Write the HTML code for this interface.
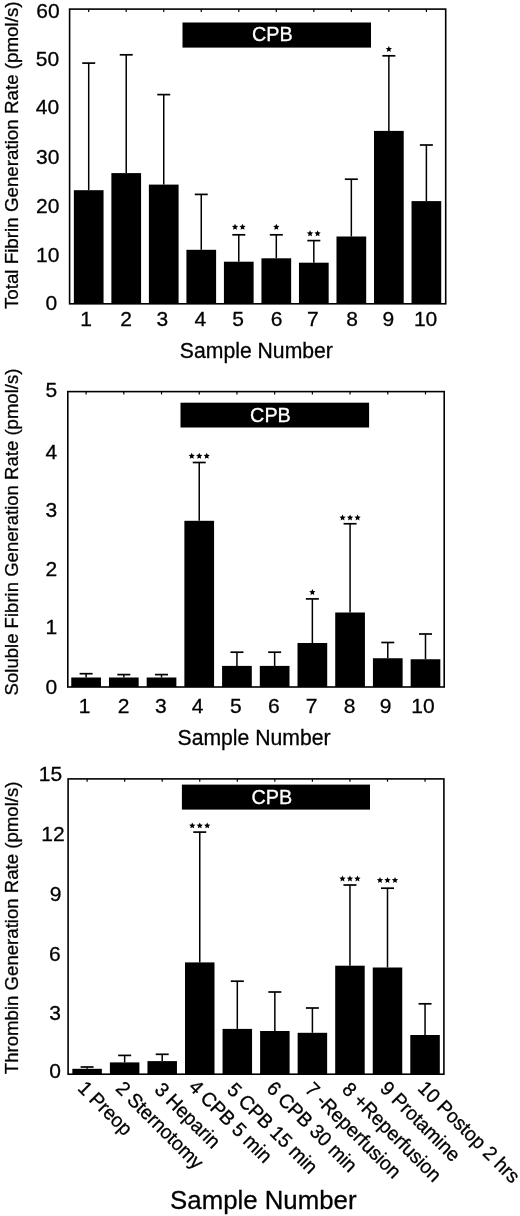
<!DOCTYPE html>
<html><head><meta charset="utf-8"><style>
html,body{margin:0;padding:0;background:#fff;}
svg{display:block;will-change:transform;}
text{font-family:"Liberation Sans", sans-serif;fill:#000;stroke:#000;stroke-width:0.3px;}
</style></head><body>
<svg width="520" height="1216" viewBox="0 0 520 1216">
<rect x="73.85" y="190.20" width="29.70" height="113.60"/>
<line x1="88.70" y1="190.20" x2="88.70" y2="63.10" stroke="#000" stroke-width="1.5"/>
<line x1="82.20" y1="63.10" x2="95.20" y2="63.10" stroke="#000" stroke-width="1.7"/>
<line x1="88.70" y1="9.10" x2="88.70" y2="11.90" stroke="#000" stroke-width="1.2"/>
<rect x="111.37" y="173.10" width="29.70" height="130.70"/>
<line x1="126.22" y1="173.10" x2="126.22" y2="54.80" stroke="#000" stroke-width="1.5"/>
<line x1="119.72" y1="54.80" x2="132.72" y2="54.80" stroke="#000" stroke-width="1.7"/>
<line x1="126.22" y1="9.10" x2="126.22" y2="11.90" stroke="#000" stroke-width="1.2"/>
<rect x="148.89" y="184.60" width="29.70" height="119.20"/>
<line x1="163.74" y1="184.60" x2="163.74" y2="94.60" stroke="#000" stroke-width="1.5"/>
<line x1="157.24" y1="94.60" x2="170.24" y2="94.60" stroke="#000" stroke-width="1.7"/>
<line x1="163.74" y1="9.10" x2="163.74" y2="11.90" stroke="#000" stroke-width="1.2"/>
<rect x="186.41" y="249.80" width="29.70" height="54.00"/>
<line x1="201.26" y1="249.80" x2="201.26" y2="194.40" stroke="#000" stroke-width="1.5"/>
<line x1="194.76" y1="194.40" x2="207.76" y2="194.40" stroke="#000" stroke-width="1.7"/>
<line x1="201.26" y1="9.10" x2="201.26" y2="11.90" stroke="#000" stroke-width="1.2"/>
<rect x="223.93" y="261.70" width="29.70" height="42.10"/>
<line x1="238.78" y1="261.70" x2="238.78" y2="234.80" stroke="#000" stroke-width="1.5"/>
<line x1="232.28" y1="234.80" x2="245.28" y2="234.80" stroke="#000" stroke-width="1.7"/>
<line x1="238.78" y1="9.10" x2="238.78" y2="11.90" stroke="#000" stroke-width="1.2"/>
<polygon points="235.03,223.80 235.94,225.85 238.17,226.08 236.50,227.58 236.97,229.77 235.03,228.65 233.09,229.77 233.56,227.58 231.89,226.08 234.12,225.85"/>
<polygon points="242.53,223.80 243.44,225.85 245.67,226.08 244.00,227.58 244.47,229.77 242.53,228.65 240.59,229.77 241.06,227.58 239.39,226.08 241.62,225.85"/>
<rect x="261.45" y="258.30" width="29.70" height="45.50"/>
<line x1="276.30" y1="258.30" x2="276.30" y2="234.80" stroke="#000" stroke-width="1.5"/>
<line x1="269.80" y1="234.80" x2="282.80" y2="234.80" stroke="#000" stroke-width="1.7"/>
<line x1="276.30" y1="9.10" x2="276.30" y2="11.90" stroke="#000" stroke-width="1.2"/>
<polygon points="276.30,223.80 277.21,225.85 279.44,226.08 277.77,227.58 278.24,229.77 276.30,228.65 274.36,229.77 274.83,227.58 273.16,226.08 275.39,225.85"/>
<rect x="298.97" y="262.70" width="29.70" height="41.10"/>
<line x1="313.82" y1="262.70" x2="313.82" y2="240.60" stroke="#000" stroke-width="1.5"/>
<line x1="307.32" y1="240.60" x2="320.32" y2="240.60" stroke="#000" stroke-width="1.7"/>
<line x1="313.82" y1="9.10" x2="313.82" y2="11.90" stroke="#000" stroke-width="1.2"/>
<polygon points="310.07,230.30 310.98,232.35 313.21,232.58 311.54,234.08 312.01,236.27 310.07,235.15 308.13,236.27 308.60,234.08 306.93,232.58 309.16,232.35"/>
<polygon points="317.57,230.30 318.48,232.35 320.71,232.58 319.04,234.08 319.51,236.27 317.57,235.15 315.63,236.27 316.10,234.08 314.43,232.58 316.66,232.35"/>
<rect x="336.49" y="236.50" width="29.70" height="67.30"/>
<line x1="351.34" y1="236.50" x2="351.34" y2="179.20" stroke="#000" stroke-width="1.5"/>
<line x1="344.84" y1="179.20" x2="357.84" y2="179.20" stroke="#000" stroke-width="1.7"/>
<line x1="351.34" y1="9.10" x2="351.34" y2="11.90" stroke="#000" stroke-width="1.2"/>
<rect x="374.01" y="130.90" width="29.70" height="172.90"/>
<line x1="388.86" y1="130.90" x2="388.86" y2="55.80" stroke="#000" stroke-width="1.5"/>
<line x1="382.36" y1="55.80" x2="395.36" y2="55.80" stroke="#000" stroke-width="1.7"/>
<line x1="388.86" y1="9.10" x2="388.86" y2="11.90" stroke="#000" stroke-width="1.2"/>
<polygon points="388.86,45.95 389.77,48.00 392.00,48.23 390.33,49.73 390.80,51.92 388.86,50.80 386.92,51.92 387.39,49.73 385.72,48.23 387.95,48.00"/>
<rect x="411.53" y="201.10" width="29.70" height="102.70"/>
<line x1="426.38" y1="201.10" x2="426.38" y2="145.00" stroke="#000" stroke-width="1.5"/>
<line x1="419.88" y1="145.00" x2="432.88" y2="145.00" stroke="#000" stroke-width="1.7"/>
<line x1="426.38" y1="9.10" x2="426.38" y2="11.90" stroke="#000" stroke-width="1.2"/>
<rect x="69.60" y="9.10" width="376.10" height="294.70" fill="none" stroke="#000" stroke-width="1.60"/>
<rect x="182.50" y="22.50" width="188.50" height="25.10"/>
<text transform="translate(272.25,41.30) scale(1,1.035)" font-size="19.80" text-anchor="middle" style="fill:#fff;stroke:#fff">CPB</text>
<text transform="translate(59.65,17.60)" font-size="21.00" text-anchor="end">60</text>
<text transform="translate(59.15,65.90)" font-size="21.00" text-anchor="end">50</text>
<text transform="translate(59.15,114.40)" font-size="21.00" text-anchor="end">40</text>
<text transform="translate(59.45,164.00)" font-size="21.00" text-anchor="end">30</text>
<text transform="translate(59.45,213.00)" font-size="21.00" text-anchor="end">20</text>
<text transform="translate(59.45,262.00)" font-size="21.00" text-anchor="end">10</text>
<text transform="translate(57.10,310.20)" font-size="21.00" text-anchor="end">0</text>
<text transform="translate(86.10,326.20)" font-size="21.00" text-anchor="middle">1</text>
<text transform="translate(126.02,326.20)" font-size="21.00" text-anchor="middle">2</text>
<text transform="translate(162.34,326.20)" font-size="21.00" text-anchor="middle">3</text>
<text transform="translate(200.26,326.20)" font-size="21.00" text-anchor="middle">4</text>
<text transform="translate(238.18,326.20)" font-size="21.00" text-anchor="middle">5</text>
<text transform="translate(276.70,326.20)" font-size="21.00" text-anchor="middle">6</text>
<text transform="translate(312.82,326.20)" font-size="21.00" text-anchor="middle">7</text>
<text transform="translate(352.04,326.20)" font-size="21.00" text-anchor="middle">8</text>
<text transform="translate(388.36,326.20)" font-size="21.00" text-anchor="middle">9</text>
<text transform="translate(425.58,326.20)" font-size="21.00" text-anchor="middle">10</text>
<text transform="translate(179.82,357.80) scale(1,1.035)" font-size="21.20">Sample Number</text>
<text transform="translate(18.00,309.11) rotate(-90)" font-size="18.77">Total Fibrin Generation Rate (pmol/s)</text>
<rect x="71.25" y="677.50" width="29.70" height="9.50"/>
<line x1="86.10" y1="677.50" x2="86.10" y2="673.70" stroke="#000" stroke-width="1.5"/>
<line x1="79.60" y1="673.70" x2="92.60" y2="673.70" stroke="#000" stroke-width="1.7"/>
<line x1="86.10" y1="391.60" x2="86.10" y2="394.40" stroke="#000" stroke-width="1.2"/>
<rect x="108.96" y="677.50" width="29.70" height="9.50"/>
<line x1="123.81" y1="677.50" x2="123.81" y2="674.60" stroke="#000" stroke-width="1.5"/>
<line x1="117.31" y1="674.60" x2="130.31" y2="674.60" stroke="#000" stroke-width="1.7"/>
<line x1="123.81" y1="391.60" x2="123.81" y2="394.40" stroke="#000" stroke-width="1.2"/>
<rect x="146.67" y="677.50" width="29.70" height="9.50"/>
<line x1="161.52" y1="677.50" x2="161.52" y2="674.60" stroke="#000" stroke-width="1.5"/>
<line x1="155.02" y1="674.60" x2="168.02" y2="674.60" stroke="#000" stroke-width="1.7"/>
<line x1="161.52" y1="391.60" x2="161.52" y2="394.40" stroke="#000" stroke-width="1.2"/>
<rect x="184.38" y="520.80" width="29.70" height="166.20"/>
<line x1="199.23" y1="520.80" x2="199.23" y2="462.50" stroke="#000" stroke-width="1.5"/>
<line x1="192.73" y1="462.50" x2="205.73" y2="462.50" stroke="#000" stroke-width="1.7"/>
<line x1="199.23" y1="391.60" x2="199.23" y2="394.40" stroke="#000" stroke-width="1.2"/>
<polygon points="191.73,452.80 192.64,454.85 194.87,455.08 193.20,456.58 193.67,458.77 191.73,457.65 189.79,458.77 190.26,456.58 188.59,455.08 190.82,454.85"/>
<polygon points="199.23,452.80 200.14,454.85 202.37,455.08 200.70,456.58 201.17,458.77 199.23,457.65 197.29,458.77 197.76,456.58 196.09,455.08 198.32,454.85"/>
<polygon points="206.73,452.80 207.64,454.85 209.87,455.08 208.20,456.58 208.67,458.77 206.73,457.65 204.79,458.77 205.26,456.58 203.59,455.08 205.82,454.85"/>
<rect x="222.09" y="665.90" width="29.70" height="21.10"/>
<line x1="236.94" y1="665.90" x2="236.94" y2="652.20" stroke="#000" stroke-width="1.5"/>
<line x1="230.44" y1="652.20" x2="243.44" y2="652.20" stroke="#000" stroke-width="1.7"/>
<line x1="236.94" y1="391.60" x2="236.94" y2="394.40" stroke="#000" stroke-width="1.2"/>
<rect x="259.80" y="665.90" width="29.70" height="21.10"/>
<line x1="274.65" y1="665.90" x2="274.65" y2="652.20" stroke="#000" stroke-width="1.5"/>
<line x1="268.15" y1="652.20" x2="281.15" y2="652.20" stroke="#000" stroke-width="1.7"/>
<line x1="274.65" y1="391.60" x2="274.65" y2="394.40" stroke="#000" stroke-width="1.2"/>
<rect x="297.51" y="643.00" width="29.70" height="44.00"/>
<line x1="312.36" y1="643.00" x2="312.36" y2="598.90" stroke="#000" stroke-width="1.5"/>
<line x1="305.86" y1="598.90" x2="318.86" y2="598.90" stroke="#000" stroke-width="1.7"/>
<line x1="312.36" y1="391.60" x2="312.36" y2="394.40" stroke="#000" stroke-width="1.2"/>
<polygon points="312.36,589.05 313.27,591.10 315.50,591.33 313.83,592.83 314.30,595.02 312.36,593.90 310.42,595.02 310.89,592.83 309.22,591.33 311.45,591.10"/>
<rect x="335.22" y="612.50" width="29.70" height="74.50"/>
<line x1="350.07" y1="612.50" x2="350.07" y2="523.75" stroke="#000" stroke-width="1.5"/>
<line x1="343.57" y1="523.75" x2="356.57" y2="523.75" stroke="#000" stroke-width="1.7"/>
<line x1="350.07" y1="391.60" x2="350.07" y2="394.40" stroke="#000" stroke-width="1.2"/>
<polygon points="342.57,514.45 343.48,516.50 345.71,516.73 344.04,518.23 344.51,520.42 342.57,519.30 340.63,520.42 341.10,518.23 339.43,516.73 341.66,516.50"/>
<polygon points="350.07,514.45 350.98,516.50 353.21,516.73 351.54,518.23 352.01,520.42 350.07,519.30 348.13,520.42 348.60,518.23 346.93,516.73 349.16,516.50"/>
<polygon points="357.57,514.45 358.48,516.50 360.71,516.73 359.04,518.23 359.51,520.42 357.57,519.30 355.63,520.42 356.10,518.23 354.43,516.73 356.66,516.50"/>
<rect x="372.93" y="658.25" width="29.70" height="28.75"/>
<line x1="387.78" y1="658.25" x2="387.78" y2="642.50" stroke="#000" stroke-width="1.5"/>
<line x1="381.28" y1="642.50" x2="394.28" y2="642.50" stroke="#000" stroke-width="1.7"/>
<line x1="387.78" y1="391.60" x2="387.78" y2="394.40" stroke="#000" stroke-width="1.2"/>
<rect x="410.64" y="659.25" width="29.70" height="27.75"/>
<line x1="425.49" y1="659.25" x2="425.49" y2="634.00" stroke="#000" stroke-width="1.5"/>
<line x1="418.99" y1="634.00" x2="431.99" y2="634.00" stroke="#000" stroke-width="1.7"/>
<line x1="425.49" y1="391.60" x2="425.49" y2="394.40" stroke="#000" stroke-width="1.2"/>
<rect x="67.80" y="391.60" width="376.40" height="295.40" fill="none" stroke="#000" stroke-width="1.60"/>
<rect x="180.50" y="402.70" width="188.60" height="24.80"/>
<text transform="translate(270.45,421.60) scale(1,1.035)" font-size="19.80" text-anchor="middle" style="fill:#fff;stroke:#fff">CPB</text>
<text transform="translate(57.15,396.70)" font-size="21.00" text-anchor="end">5</text>
<text transform="translate(57.15,458.50)" font-size="21.00" text-anchor="end">4</text>
<text transform="translate(57.15,516.50)" font-size="21.00" text-anchor="end">3</text>
<text transform="translate(57.15,575.60)" font-size="21.00" text-anchor="end">2</text>
<text transform="translate(57.15,633.50)" font-size="21.00" text-anchor="end">1</text>
<text transform="translate(57.15,694.40)" font-size="21.00" text-anchor="end">0</text>
<text transform="translate(84.60,713.30)" font-size="21.00" text-anchor="middle">1</text>
<text transform="translate(123.51,713.30)" font-size="21.00" text-anchor="middle">2</text>
<text transform="translate(160.82,713.30)" font-size="21.00" text-anchor="middle">3</text>
<text transform="translate(197.63,713.30)" font-size="21.00" text-anchor="middle">4</text>
<text transform="translate(235.84,713.30)" font-size="21.00" text-anchor="middle">5</text>
<text transform="translate(273.75,713.30)" font-size="21.00" text-anchor="middle">6</text>
<text transform="translate(311.56,713.30)" font-size="21.00" text-anchor="middle">7</text>
<text transform="translate(349.57,713.30)" font-size="21.00" text-anchor="middle">8</text>
<text transform="translate(385.48,713.30)" font-size="21.00" text-anchor="middle">9</text>
<text transform="translate(422.99,713.30)" font-size="21.00" text-anchor="middle">10</text>
<text transform="translate(177.52,744.90) scale(1,1.035)" font-size="21.20">Sample Number</text>
<text transform="translate(18.20,695.41) rotate(-90)" font-size="18.56">Soluble Fibrin Generation Rate (pmol/s)</text>
<rect x="72.35" y="1068.80" width="29.50" height="5.40"/>
<line x1="87.10" y1="1068.80" x2="87.10" y2="1067.00" stroke="#000" stroke-width="1.5"/>
<line x1="80.60" y1="1067.00" x2="93.60" y2="1067.00" stroke="#000" stroke-width="1.7"/>
<line x1="87.10" y1="778.90" x2="87.10" y2="781.70" stroke="#000" stroke-width="1.2"/>
<rect x="109.90" y="1062.40" width="29.50" height="11.80"/>
<line x1="124.65" y1="1062.40" x2="124.65" y2="1055.40" stroke="#000" stroke-width="1.5"/>
<line x1="118.15" y1="1055.40" x2="131.15" y2="1055.40" stroke="#000" stroke-width="1.7"/>
<line x1="124.65" y1="778.90" x2="124.65" y2="781.70" stroke="#000" stroke-width="1.2"/>
<rect x="147.45" y="1061.10" width="29.50" height="13.10"/>
<line x1="162.20" y1="1061.10" x2="162.20" y2="1054.30" stroke="#000" stroke-width="1.5"/>
<line x1="155.70" y1="1054.30" x2="168.70" y2="1054.30" stroke="#000" stroke-width="1.7"/>
<line x1="162.20" y1="778.90" x2="162.20" y2="781.70" stroke="#000" stroke-width="1.2"/>
<rect x="185.00" y="962.40" width="29.50" height="111.80"/>
<line x1="199.75" y1="962.40" x2="199.75" y2="832.10" stroke="#000" stroke-width="1.5"/>
<line x1="193.25" y1="832.10" x2="206.25" y2="832.10" stroke="#000" stroke-width="1.7"/>
<line x1="199.75" y1="778.90" x2="199.75" y2="781.70" stroke="#000" stroke-width="1.2"/>
<polygon points="192.25,822.40 193.16,824.45 195.39,824.68 193.72,826.18 194.19,828.37 192.25,827.25 190.31,828.37 190.78,826.18 189.11,824.68 191.34,824.45"/>
<polygon points="199.75,822.40 200.66,824.45 202.89,824.68 201.22,826.18 201.69,828.37 199.75,827.25 197.81,828.37 198.28,826.18 196.61,824.68 198.84,824.45"/>
<polygon points="207.25,822.40 208.16,824.45 210.39,824.68 208.72,826.18 209.19,828.37 207.25,827.25 205.31,828.37 205.78,826.18 204.11,824.68 206.34,824.45"/>
<rect x="222.55" y="1028.90" width="29.50" height="45.30"/>
<line x1="237.30" y1="1028.90" x2="237.30" y2="981.20" stroke="#000" stroke-width="1.5"/>
<line x1="230.80" y1="981.20" x2="243.80" y2="981.20" stroke="#000" stroke-width="1.7"/>
<line x1="237.30" y1="778.90" x2="237.30" y2="781.70" stroke="#000" stroke-width="1.2"/>
<rect x="260.10" y="1031.00" width="29.50" height="43.20"/>
<line x1="274.85" y1="1031.00" x2="274.85" y2="992.00" stroke="#000" stroke-width="1.5"/>
<line x1="268.35" y1="992.00" x2="281.35" y2="992.00" stroke="#000" stroke-width="1.7"/>
<line x1="274.85" y1="778.90" x2="274.85" y2="781.70" stroke="#000" stroke-width="1.2"/>
<rect x="297.65" y="1032.80" width="29.50" height="41.40"/>
<line x1="312.40" y1="1032.80" x2="312.40" y2="1008.00" stroke="#000" stroke-width="1.5"/>
<line x1="305.90" y1="1008.00" x2="318.90" y2="1008.00" stroke="#000" stroke-width="1.7"/>
<line x1="312.40" y1="778.90" x2="312.40" y2="781.70" stroke="#000" stroke-width="1.2"/>
<rect x="335.20" y="965.70" width="29.50" height="108.50"/>
<line x1="349.95" y1="965.70" x2="349.95" y2="885.00" stroke="#000" stroke-width="1.5"/>
<line x1="343.45" y1="885.00" x2="356.45" y2="885.00" stroke="#000" stroke-width="1.7"/>
<line x1="349.95" y1="778.90" x2="349.95" y2="781.70" stroke="#000" stroke-width="1.2"/>
<polygon points="342.45,875.45 343.36,877.50 345.59,877.73 343.92,879.23 344.39,881.42 342.45,880.30 340.51,881.42 340.98,879.23 339.31,877.73 341.54,877.50"/>
<polygon points="349.95,875.45 350.86,877.50 353.09,877.73 351.42,879.23 351.89,881.42 349.95,880.30 348.01,881.42 348.48,879.23 346.81,877.73 349.04,877.50"/>
<polygon points="357.45,875.45 358.36,877.50 360.59,877.73 358.92,879.23 359.39,881.42 357.45,880.30 355.51,881.42 355.98,879.23 354.31,877.73 356.54,877.50"/>
<rect x="372.75" y="967.50" width="29.50" height="106.70"/>
<line x1="387.50" y1="967.50" x2="387.50" y2="888.20" stroke="#000" stroke-width="1.5"/>
<line x1="381.00" y1="888.20" x2="394.00" y2="888.20" stroke="#000" stroke-width="1.7"/>
<line x1="387.50" y1="778.90" x2="387.50" y2="781.70" stroke="#000" stroke-width="1.2"/>
<polygon points="380.00,876.95 380.91,879.00 383.14,879.23 381.47,880.73 381.94,882.92 380.00,881.80 378.06,882.92 378.53,880.73 376.86,879.23 379.09,879.00"/>
<polygon points="387.50,876.95 388.41,879.00 390.64,879.23 388.97,880.73 389.44,882.92 387.50,881.80 385.56,882.92 386.03,880.73 384.36,879.23 386.59,879.00"/>
<polygon points="395.00,876.95 395.91,879.00 398.14,879.23 396.47,880.73 396.94,882.92 395.00,881.80 393.06,882.92 393.53,880.73 391.86,879.23 394.09,879.00"/>
<rect x="410.30" y="1035.00" width="29.50" height="39.20"/>
<line x1="425.05" y1="1035.00" x2="425.05" y2="1003.80" stroke="#000" stroke-width="1.5"/>
<line x1="418.55" y1="1003.80" x2="431.55" y2="1003.80" stroke="#000" stroke-width="1.7"/>
<line x1="425.05" y1="778.90" x2="425.05" y2="781.70" stroke="#000" stroke-width="1.2"/>
<rect x="68.10" y="778.90" width="375.80" height="295.30" fill="none" stroke="#000" stroke-width="1.60"/>
<rect x="181.90" y="784.60" width="188.10" height="25.00"/>
<text transform="translate(271.75,803.70) scale(1,1.035)" font-size="19.80" text-anchor="middle" style="fill:#fff;stroke:#fff">CPB</text>
<text transform="translate(62.15,780.80)" font-size="21.00" text-anchor="end">15</text>
<text transform="translate(64.65,841.45)" font-size="21.00" text-anchor="end">12</text>
<text transform="translate(61.35,900.80)" font-size="21.00" text-anchor="end">9</text>
<text transform="translate(60.65,960.90)" font-size="21.00" text-anchor="end">6</text>
<text transform="translate(61.05,1019.60)" font-size="21.00" text-anchor="end">3</text>
<text transform="translate(61.05,1077.60)" font-size="21.00" text-anchor="end">0</text>
<text transform="translate(170.11,1209.20) scale(1,1.035)" font-size="25.80">Sample Number</text>
<text transform="translate(18.20,1074.21) rotate(-90)" font-size="18.61">Thrombin Generation Rate (pmol/s)</text>
<text transform="translate(76.80,1089.20) rotate(45) scale(1,1.035)" font-size="19.20">1 Preop</text>
<text transform="translate(114.75,1089.60) rotate(45) scale(1,1.035)" font-size="19.20">2 Sternotomy</text>
<text transform="translate(153.40,1090.70) rotate(45) scale(1,1.035)" font-size="19.20">3 Heparin</text>
<text transform="translate(187.85,1087.90) rotate(45) scale(1,1.035)" font-size="19.20">4 CPB 5 min</text>
<text transform="translate(225.90,1091.10) rotate(45) scale(1,1.035)" font-size="19.20">5 CPB 15 min</text>
<text transform="translate(265.45,1089.60) rotate(45) scale(1,1.035)" font-size="19.20">6 CPB 30 min</text>
<text transform="translate(304.00,1090.60) rotate(45) scale(1,1.035)" font-size="19.20">7 -Reperfusion</text>
<text transform="translate(341.05,1090.60) rotate(45) scale(1,1.035)" font-size="19.20">8 +Reperfusion</text>
<text transform="translate(379.10,1089.60) rotate(45) scale(1,1.035)" font-size="19.20">9 Protamine</text>
<text transform="translate(416.85,1089.30) rotate(45) scale(1,1.035)" font-size="19.20">10 Postop 2 hrs</text>
</svg>
</body></html>
